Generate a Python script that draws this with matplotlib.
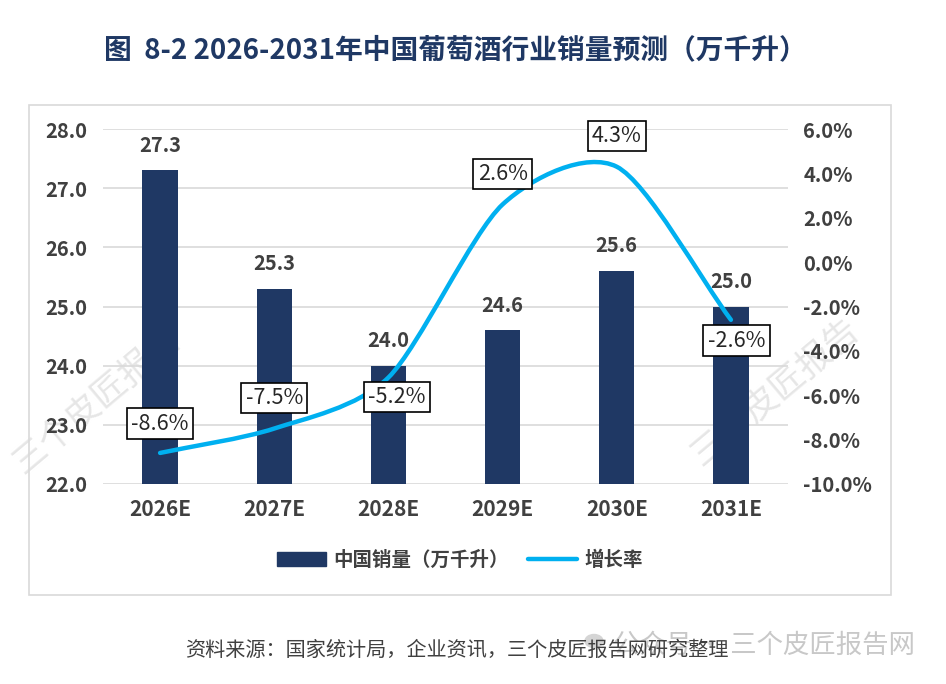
import matplotlib
matplotlib.use("Agg")
import matplotlib.pyplot as plt
from matplotlib.path import Path
from matplotlib.patches import PathPatch, Rectangle, Patch
from matplotlib.lines import Line2D
import numpy as np

plt.rcParams['font.family'] = ['Noto Sans CJK SC', 'DejaVu Sans']

# ---- data ----
years = ["2026E", "2027E", "2028E", "2029E", "2030E", "2031E"]
sales = [27.3, 25.3, 24.0, 24.6, 25.6, 25.0]          # 万千升
growth = [-8.6, -7.5, -5.2, 2.6, 4.3, -2.6]           # %
left_ticks = [22.0, 23.0, 24.0, 25.0, 26.0, 27.0, 28.0]
right_ticks = [-10.0, -8.0, -6.0, -4.0, -2.0, 0.0, 2.0, 4.0, 6.0]

title = "图  8-2 2026-2031年中国葡萄酒行业销量预测（万千升）"
bar_name = "中国销量（万千升）"
line_name = "增长率"
source = "资料来源：国家统计局，企业资讯，三个皮匠报告网研究整理"
watermark = "三个皮匠报告"
wechat_mark = "公众号 · 三个皮匠报告网"

# label offsets (style, in points)
pct_offsets = [(0, 21), (0, 22), (6, -14), (0, 22), (0, 22), (4, -15)]

NAVY = "#1F3864"
BLUE = "#00B0F0"
TXT = "#404040"
GRID = "#D9D9D9"

fig = plt.figure(figsize=(9.46, 6.84), dpi=100)
fig.patch.set_facecolor("white")

# outer frame
fig.patches.append(Rectangle((29/946, 1-595/684), (891-29)/946, (595-105)/684,
                             transform=fig.transFigure, fill=False,
                             ec=GRID, lw=1.2, zorder=0))

# watermarks (behind the plot)
fig.text(97/946, 1-400/684, watermark, rotation=40, ha='center', va='center',
         fontsize=25, color='#E6E6E6', zorder=-1)
fig.text(775/946, 1-392/684, watermark, rotation=40, ha='center', va='center',
         fontsize=25, color='#E6E6E6', zorder=-1)

ax = fig.add_axes([103/946, 1-484/684, (788-103)/946, (484-129)/684])
ax.patch.set_visible(False)
x = np.arange(len(years))
ax.bar(x, sales, width=0.31, color=NAVY, zorder=2)
ax.set_ylim(22, 28)
ax.set_xlim(-0.5, len(years)-0.5)
ax.set_yticks(left_ticks)
ax.set_yticklabels([f"{v:.1f}" for v in left_ticks])
ax.set_xticks(x)
ax.set_xticklabels(years)
ax.grid(axis='y', color=GRID, lw=1.2, zorder=0)
ax.set_axisbelow(True)
for s in ax.spines.values():
    s.set_visible(False)
ax.tick_params(axis='both', length=0, colors=TXT)
ax.tick_params(axis='y', pad=11, labelsize=14.5)
ax.tick_params(axis='x', pad=11, labelsize=15)
for lab in ax.get_xticklabels() + ax.get_yticklabels():
    lab.set_fontweight('bold')

for xi, v in zip(x, sales):
    ax.annotate(f"{v:.1f}", (xi, v), xytext=(0, 18), textcoords='offset points',
                ha='center', va='center', fontsize=14.5, fontweight='bold', color=TXT)

ax2 = ax.twinx()
ax2.patch.set_visible(False)
ax2.set_ylim(-10, 6)
ax2.set_yticks(right_ticks)
ax2.set_yticklabels([f"{v:.1f}%" for v in right_ticks])
for s in ax2.spines.values():
    s.set_visible(False)
ax2.tick_params(axis='y', length=0, colors=TXT, labelsize=14.5, pad=11)
for lab in ax2.get_yticklabels():
    lab.set_fontweight('bold')

# smoothed line (Bezier through the data points)
pts = np.column_stack([x, growth]).astype(float)
n = len(pts)
tang = np.zeros_like(pts)
for i in range(n):
    a = pts[max(i-1, 0)]
    b = pts[min(i+1, n-1)]
    tang[i] = (b - a) / 2.0 if 0 < i < n-1 else (b - a)
k = 0.8 / 3.0
verts = [tuple(pts[0])]
codes = [Path.MOVETO]
for i in range(n-1):
    c1 = pts[i] + tang[i] * k
    c2 = pts[i+1] - tang[i+1] * k
    verts += [tuple(c1), tuple(c2), tuple(pts[i+1])]
    codes += [Path.CURVE4] * 3
ax2.add_patch(PathPatch(Path(verts, codes), fill=False, ec=BLUE, lw=3.2,
                        capstyle='round', zorder=3))

for xi, v, off in zip(x, growth, pct_offsets):
    ax2.annotate(f"{v:.1f}%", (xi, v), xytext=off, textcoords='offset points',
                 ha='center', va='center', fontsize=15.5, color='#262626', zorder=5,
                 bbox=dict(boxstyle='square,pad=0.2', fc='white', ec='black', lw=1.2))

# legend
handles = [Patch(facecolor=NAVY, edgecolor=NAVY),
           Line2D([0], [0], color=BLUE, lw=3.2, solid_capstyle='round')]
leg = fig.legend(handles, [bar_name, line_name], loc='center',
                 bbox_to_anchor=(460/946, 1-560/684), ncol=2, frameon=False,
                 handlelength=2.5, handleheight=0.7, columnspacing=1.0,
                 handletextpad=0.4, prop=dict(size=14, weight='bold'))
for t in leg.get_texts():
    t.set_color(TXT)

# title
fig.text(455/946, 1-50/684, title, ha='center', va='center', fontsize=20,
         fontweight='bold', color=NAVY)

# bottom-right account mark
fig.text(915/946, 1-645/684, wechat_mark, ha='right', va='center',
         fontsize=19, color='#C8C8C8', zorder=1)
fig.patches.append(plt.Circle((594/946, 1-641/684), 9/946, transform=fig.transFigure,
                              color='#D5D5D5', zorder=1))

# source
fig.text(185/946, 1-650/684, source, ha='left', va='center', fontsize=14.5,
         color=TXT, zorder=2)

fig.savefig("out.png", dpi=100, facecolor='white')
